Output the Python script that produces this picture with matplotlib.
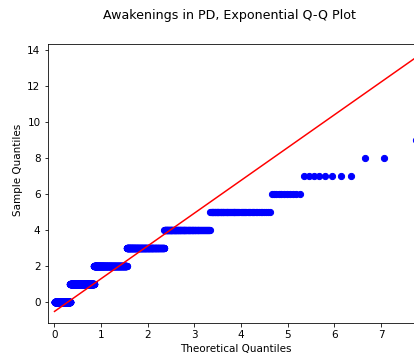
import numpy as np
import matplotlib
matplotlib.use("Agg")
import matplotlib.pyplot as plt

# Number of awakenings per record and how often each value occurs
awakening_values = [0, 1, 2, 3, 4, 5, 6, 7, 8, 9]
awakening_counts = [664, 661, 501, 273, 138, 60, 11, 8, 2, 1]

title_text = "Awakenings in PD, Exponential Q-Q Plot"
x_label = "Theoretical Quantiles"
y_label = "Sample Quantiles"
y_ticks = [0, 2, 4, 6, 8, 10, 12, 14]

# Sorted sample and exponential theoretical quantiles at positions i/(n+1)
sample = np.sort(np.repeat(awakening_values, awakening_counts)).astype(float)
n = sample.size
positions = np.arange(1, n + 1) / (n + 1)
theoretical = -np.log1p(-positions)

# Reference line through the quartiles
q25, q75 = np.percentile(sample, [25, 75])
tq25, tq75 = -np.log1p(-np.array([0.25, 0.75]))
slope = (q75 - q25) / (tq75 - tq25)
intercept = q25 - slope * tq25

dpi = 72
fig = plt.figure(figsize=(414 / dpi, 360 / dpi), dpi=dpi)
W, H = 414.0, 360.0
ax_left_px, ax_right_px = 47.5, 424.0
ax_top_px, ax_bottom_px = 44.0, 322.7
ax = fig.add_axes([ax_left_px / W, 1 - ax_bottom_px / H,
                   (ax_right_px - ax_left_px) / W, (ax_bottom_px - ax_top_px) / H])

ax.plot(theoretical, sample, "bo", markersize=6.2)
ax.plot(theoretical, slope * theoretical + intercept, "r-", linewidth=1.5)

ax.set_xlim(-0.15, 7.92)
ax.set_ylim(-1.15, 14.33)
ax.set_yticks(y_ticks)
ax.set_xticks(range(0, 8))
ax.tick_params(labelsize=10.4)

ax.set_xlabel(x_label, fontsize=10.4)
ax.set_ylabel(y_label, fontsize=10.4)
ax.yaxis.label.set_y(0.548)

fig.text(229.2 / W, 1 - 19.0 / H, title_text, fontsize=12.6,
         ha="center", va="baseline")

fig.savefig("out.png", dpi=dpi)
